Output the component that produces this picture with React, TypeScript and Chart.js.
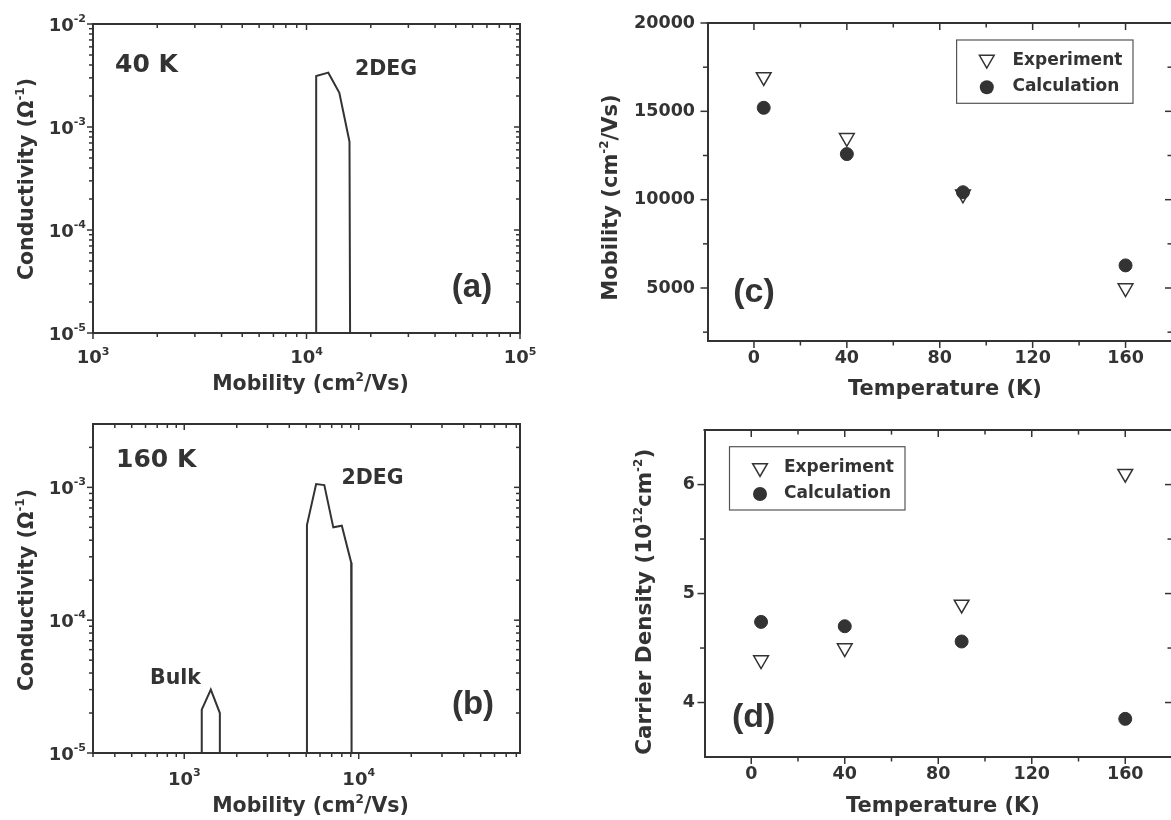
import React, { useEffect, useRef } from "react";
import { Chart, registerables } from "chart.js";

Chart.register(...registerables);

const INK = "#333333";
const SANS = '"DejaVu Sans", "Liberation Sans", sans-serif';
const TAG = '"Liberation Sans", Arial, sans-serif';

// ---------- (a) 40 K mobility spectrum ----------
const mobility40K = [11100, 11100, 12650, 14250, 15900, 16000];
const conductivity40K = [1e-5, 3.13e-3, 3.37e-3, 2.15e-3, 7.2e-4, 1e-5];

// ---------- (b) 160 K mobility spectrum ----------
const mobilityBulk160K = [1260, 1260, 1420, 1600, 1600];
const conductivityBulk160K = [1e-5, 2.12e-5, 3.0e-5, 2.0e-5, 1e-5];
const mobility2DEG160K = [5050, 5050, 5700, 6350, 7150, 8000, 9050, 9100];
const conductivity2DEG160K = [1e-5, 5.2e-4, 1.06e-3, 1.04e-3, 5.0e-4, 5.15e-4, 2.72e-4, 1e-5];

// ---------- (c), (d) ----------
const temperatureK = [4.2, 40, 90, 160];
const mobilityExperiment = [16950, 13500, 10300, 5000];
const mobilityCalculation = [15200, 12580, 10420, 6280];
const densityExperiment = [4.39, 4.5, 4.9, 6.1];
const densityCalculation = [4.74, 4.7, 4.56, 3.85];

// ---------- ticks ----------
const aXMajor = [1e3, 1e4, 1e5];
const aXMinor = [2e3, 3e3, 4e3, 5e3, 6e3, 7e3, 8e3, 9e3, 2e4, 3e4, 4e4, 5e4, 6e4, 7e4, 8e4, 9e4];
const aYMajor = [1e-5, 1e-4, 1e-3, 1e-2];
const aYMinor = [2e-5, 3e-5, 4e-5, 5e-5, 6e-5, 7e-5, 8e-5, 9e-5, 2e-4, 3e-4, 4e-4, 5e-4, 6e-4, 7e-4, 8e-4, 9e-4, 2e-3, 3e-3, 4e-3, 5e-3, 6e-3, 7e-3, 8e-3, 9e-3];
const bXMajor = [1e3, 1e4];
const bXMinor = [300, 400, 500, 600, 700, 800, 900, 2000, 3000, 4000, 5000, 6000, 7000, 8000, 9000, 20000, 30000, 40000, 50000, 60000, 70000, 80000];
const bYMajor = [1e-5, 1e-4, 1e-3];
const bYMinor = [2e-5, 3e-5, 4e-5, 5e-5, 6e-5, 7e-5, 8e-5, 9e-5, 2e-4, 3e-4, 4e-4, 5e-4, 6e-4, 7e-4, 8e-4, 9e-4, 2e-3];
const tempMajor = [0, 40, 80, 120, 160];
const tempMinor = [20, 60, 100, 140];
const mobMajor = [5000, 10000, 15000, 20000];
const mobMinor = [2500, 7500, 12500, 17500];
const densMajor = [4, 5, 6];
const densMinor = [4.5, 5.5];

type Seg = [string, boolean?];

function drawRich(
  ctx: CanvasRenderingContext2D,
  segs: Seg[],
  x: number,
  y: number,
  size: number,
  supSize: number,
  raise: number,
  align: "left" | "center" | "right",
  family: string = SANS
) {
  const main = `bold ${size}px ${family}`;
  const sup = `bold ${supSize}px ${family}`;
  let w = 0;
  for (const [t, s] of segs) {
    ctx.font = s ? sup : main;
    w += ctx.measureText(t).width;
  }
  let cx = align === "left" ? x : align === "center" ? x - w / 2 : x - w;
  ctx.textAlign = "left";
  ctx.textBaseline = "alphabetic";
  ctx.fillStyle = INK;
  for (const [t, s] of segs) {
    ctx.font = s ? sup : main;
    ctx.fillText(t, cx, s ? y - raise : y);
    cx += ctx.measureText(t).width;
  }
}

type Note = { segs: Seg[]; x: number; y: number; size: number; align: "left" | "center" | "right"; family?: string };
type Decor = {
  xMajor: number[];
  xMinor: number[];
  yMajor: number[];
  yMinor: number[];
  majorLen: number;
  minorLen: number;
  logXBaseline?: number;
  logYRight?: number;
  xTitle: { segs: Seg[]; x: number; y: number; size: number };
  yTitle: { segs: Seg[]; x: number; y: number; size: number };
  notes: Note[];
  legend?: {
    box: [number, number, number, number];
    markerX: number;
    textX: number;
    triY: number;
    circY: number;
    triText: number;
    circText: number;
  };
};

function triangleDown(ctx: CanvasRenderingContext2D, x: number, y: number, r: number) {
  const s = Math.sin(Math.PI / 3) * r;
  ctx.beginPath();
  ctx.moveTo(x, y + r);
  ctx.lineTo(x - s, y - r / 2);
  ctx.lineTo(x + s, y - r / 2);
  ctx.closePath();
}

function decorPlugin(d: Decor) {
  return {
    id: "decor",
    afterDraw(chart: any) {
      const ctx: CanvasRenderingContext2D = chart.ctx;
      const a = chart.chartArea;
      const xs = chart.scales.x;
      const ys = chart.scales.y;
      ctx.save();
      // top and right frame
      ctx.strokeStyle = INK;
      ctx.lineWidth = 2;
      ctx.lineCap = "square";
      ctx.beginPath();
      ctx.moveTo(a.left, a.top);
      ctx.lineTo(a.right, a.top);
      ctx.lineTo(a.right, a.bottom);
      ctx.stroke();
      // ticks
      ctx.lineWidth = 1.5;
      ctx.lineCap = "butt";
      const seg = (x1: number, y1: number, x2: number, y2: number) => {
        ctx.beginPath();
        ctx.moveTo(x1, y1);
        ctx.lineTo(x2, y2);
        ctx.stroke();
      };
      const tx = (vals: number[], len: number) =>
        vals.forEach((v) => {
          const p = xs.getPixelForValue(v);
          seg(p, a.bottom, p, a.bottom + 1 + len);
          seg(p, a.top, p, a.top + 1 + len);
        });
      const ty = (vals: number[], len: number) =>
        vals.forEach((v) => {
          const p = ys.getPixelForValue(v);
          seg(a.left, p, a.left - 1 - len, p);
          seg(a.right, p, a.right - 1 - len, p);
        });
      tx(d.xMajor, d.majorLen);
      tx(d.xMinor, d.minorLen);
      ty(d.yMajor, d.majorLen);
      ty(d.yMinor, d.minorLen);

      // log tick labels 10^n
      if (d.logXBaseline !== undefined) {
        d.xMajor.forEach((v) => {
          const p = xs.getPixelForValue(v);
          const e = String(Math.round(Math.log10(v)));
          drawRich(ctx, [["10"], [e, true]], p, a.bottom + d.logXBaseline!, 18, 11, 8.5, "center");
        });
      }
      if (d.logYRight !== undefined) {
        d.yMajor.forEach((v) => {
          const p = ys.getPixelForValue(v);
          const e = String(Math.round(Math.log10(v)));
          drawRich(ctx, [["10"], [e, true]], d.logYRight!, p + 6.5, 18, 11, 8.5, "right");
        });
      }

      // axis titles
      drawRich(ctx, d.xTitle.segs, d.xTitle.x, d.xTitle.y, d.xTitle.size, 12, 8.7, "center");
      ctx.save();
      ctx.translate(d.yTitle.x, d.yTitle.y);
      ctx.rotate(-Math.PI / 2);
      drawRich(ctx, d.yTitle.segs, 0, 0, d.yTitle.size, 12, 8.7, "center");
      ctx.restore();

      // annotations
      d.notes.forEach((n) => drawRich(ctx, n.segs, n.x, n.y, n.size, 12, 8, n.align, n.family || SANS));

      // legend
      if (d.legend) {
        const L = d.legend;
        ctx.strokeStyle = "#555555";
        ctx.lineWidth = 1.2;
        ctx.strokeRect(L.box[0], L.box[1], L.box[2], L.box[3]);
        ctx.fillStyle = "#ffffff";
        ctx.strokeStyle = INK;
        ctx.lineWidth = 1.5;
        triangleDown(ctx, L.markerX, L.triY, 8.5);
        ctx.fill();
        ctx.stroke();
        ctx.fillStyle = INK;
        ctx.beginPath();
        ctx.arc(L.markerX, L.circY, 7, 0, Math.PI * 2);
        ctx.fill();
        drawRich(ctx, [["Experiment"]], L.textX, L.triText, 17, 11, 8, "left");
        drawRich(ctx, [["Calculation"]], L.textX, L.circText, 17, 11, 8, "left");
      }
      ctx.restore();
    },
  };
}

type Area = { l: number; t: number; r: number; b: number };
type Spec = { x: number; y: number; w: number; h: number; area: Area; config: () => any };

function axisBase(size: number) {
  return {
    grid: { display: false, drawTicks: false },
    border: { display: true, color: INK, width: 2 },
    afterFit: (s: any) => {
      if (s.isHorizontal()) s.height = size;
      else s.width = size;
    },
  };
}

function linearTicks(values: number[], padding: number) {
  return {
    ticks: {
      display: true,
      color: INK,
      font: { family: SANS, weight: "bold", size: 17.5 },
      padding,
      autoSkip: false,
      maxRotation: 0,
      callback: (v: any) => String(v),
    },
    afterBuildTicks: (s: any) => {
      s.ticks = values.map((v) => ({ value: v }));
    },
  };
}

function baseOptions(w: number, h: number, area: Area, scales: any, decor: Decor) {
  return {
    options: {
      responsive: false,
      animation: false,
      devicePixelRatio: 1,
      events: [],
      layout: { autoPadding: false, padding: { left: 0, top: area.t, right: w - area.r, bottom: 0 } },
      plugins: { legend: { display: false }, tooltip: { enabled: false } },
      scales,
    },
    plugins: [decorPlugin(decor)],
  };
}

const pts = (xs: number[], ys: number[]) => xs.map((x, i) => ({ x, y: ys[i] }));

const curveStyle = {
  showLine: true,
  borderColor: INK,
  borderWidth: 2,
  pointRadius: 0,
  pointHoverRadius: 0,
  fill: false,
  tension: 0,
};

const experimentStyle = {
  pointStyle: "triangle",
  pointRotation: 180,
  pointRadius: 8.5,
  pointHoverRadius: 8.5,
  pointBackgroundColor: "#ffffff",
  pointBorderColor: INK,
  pointBorderWidth: 1.5,
  showLine: false,
  order: 1,
};
const calculationStyle = {
  pointStyle: "circle",
  pointRadius: 6.5,
  pointHoverRadius: 6.5,
  pointBackgroundColor: INK,
  pointBorderColor: INK,
  pointBorderWidth: 1,
  showLine: false,
  order: 0,
};

const mobilityTitle: Seg[] = [["Mobility (cm"], ["2", true], ["/Vs)"]];
const conductivityTitle: Seg[] = [["Conductivity (\u03A9"], ["-1", true], [")"]];

const specA: Spec = {
  x: 0, y: 0, w: 585, h: 410,
  area: { l: 93, t: 24, r: 520, b: 333 },
  config() {
    const { w, h, area } = specA;
    return {
      type: "scatter",
      data: { datasets: [{ label: "2DEG 40 K", data: pts(mobility40K, conductivity40K), ...curveStyle }] },
      ...baseOptions(w, h, area, {
        x: { type: "logarithmic", min: 1e3, max: 1e5, ticks: { display: false }, ...axisBase(h - area.b) },
        y: { type: "logarithmic", min: 1e-5, max: 1e-2, ticks: { display: false }, ...axisBase(area.l) },
      }, {
        xMajor: aXMajor, xMinor: aXMinor, yMajor: aYMajor, yMinor: aYMinor,
        majorLen: 5, minorLen: 3,
        logXBaseline: 30, logYRight: 86,
        xTitle: { segs: mobilityTitle, x: 310.5, y: 390, size: 20.5 },
        yTitle: { segs: conductivityTitle, x: 33, y: 179, size: 20.5 },
        notes: [
          { segs: [["40 K"]], x: 115, y: 71.5, size: 25, align: "left" },
          { segs: [["2DEG"]], x: 355, y: 75, size: 20.5, align: "left" },
          { segs: [["(a)"]], x: 472, y: 297, size: 33, align: "center", family: TAG },
        ],
      }),
    };
  },
};

const specB: Spec = {
  x: 0, y: 410, w: 585, h: 410,
  area: { l: 93, t: 14, r: 520, b: 343 },
  config() {
    const { w, h, area } = specB;
    return {
      type: "scatter",
      data: {
        datasets: [
          { label: "Bulk 160 K", data: pts(mobilityBulk160K, conductivityBulk160K), ...curveStyle },
          { label: "2DEG 160 K", data: pts(mobility2DEG160K, conductivity2DEG160K), ...curveStyle },
        ],
      },
      ...baseOptions(w, h, area, {
        x: { type: "logarithmic", min: 300, max: 84000, ticks: { display: false }, ...axisBase(h - area.b) },
        y: { type: "logarithmic", min: 1e-5, max: 3e-3, ticks: { display: false }, ...axisBase(area.l) },
      }, {
        xMajor: bXMajor, xMinor: bXMinor, yMajor: bYMajor, yMinor: bYMinor,
        majorLen: 5, minorLen: 3,
        logXBaseline: 31.5, logYRight: 86,
        xTitle: { segs: mobilityTitle, x: 310.5, y: 402, size: 20.5 },
        yTitle: { segs: conductivityTitle, x: 33, y: 180, size: 20.5 },
        notes: [
          { segs: [["160 K"]], x: 116, y: 56.5, size: 25, align: "left" },
          { segs: [["2DEG"]], x: 341.5, y: 73.5, size: 20.5, align: "left" },
          { segs: [["Bulk"]], x: 150, y: 273.5, size: 20.5, align: "left" },
          { segs: [["(b)"]], x: 473, y: 304, size: 33, align: "center", family: TAG },
        ],
      }),
    };
  },
};

const specC: Spec = {
  x: 585, y: 0, w: 600, h: 410,
  area: { l: 122.5, t: 22, r: 587, b: 341 },
  config() {
    const { w, h, area } = specC;
    return {
      type: "scatter",
      data: {
        datasets: [
          { label: "Experiment", data: pts(temperatureK, mobilityExperiment), ...experimentStyle },
          { label: "Calculation", data: pts(temperatureK, mobilityCalculation), ...calculationStyle },
        ],
      },
      ...baseOptions(w, h, area, {
        x: { type: "linear", min: -20, max: 180, ...linearTicks(tempMajor, 7), ...axisBase(h - area.b) },
        y: { type: "linear", min: 2000, max: 20000, ...linearTicks(mobMajor, 12.5), ...axisBase(area.l) },
      }, {
        xMajor: tempMajor, xMinor: tempMinor, yMajor: mobMajor, yMinor: mobMinor,
        majorLen: 6, minorLen: 3.5,
        xTitle: { segs: [["Temperature (K)"]], x: 360, y: 395, size: 21 },
        yTitle: { segs: [["Mobility (cm"], ["-2", true], ["/Vs)"]], x: 31.8, y: 197.5, size: 21 },
        notes: [{ segs: [["(c)"]], x: 169, y: 302, size: 34, align: "center", family: TAG }],
        legend: {
          box: [371.6, 40, 176.4, 63.3],
          markerX: 401.8, textX: 427.4,
          triY: 59.6, circY: 87.3,
          triText: 65.2, circText: 91.2,
        },
      }),
    };
  },
};

const specD: Spec = {
  x: 585, y: 410, w: 600, h: 410,
  area: { l: 119.5, t: 18, r: 587, b: 347 },
  config() {
    const { w, h, area } = specD;
    return {
      type: "scatter",
      data: {
        datasets: [
          { label: "Experiment", data: pts(temperatureK, densityExperiment), ...experimentStyle },
          { label: "Calculation", data: pts(temperatureK, densityCalculation), ...calculationStyle },
        ],
      },
      ...baseOptions(w, h, area, {
        x: { type: "linear", min: -20, max: 180, ...linearTicks(tempMajor, 7), ...axisBase(h - area.b) },
        y: { type: "linear", min: 3.5, max: 6.5, ...linearTicks(densMajor, 9.6), ...axisBase(area.l) },
      }, {
        xMajor: tempMajor, xMinor: tempMinor, yMajor: densMajor, yMinor: densMinor,
        majorLen: 6, minorLen: 3.5,
        xTitle: { segs: [["Temperature (K)"]], x: 358, y: 401.7, size: 21 },
        yTitle: { segs: [["Carrier Density (10"], ["12", true], ["cm"], ["-2", true], [")"]], x: 65.6, y: 191.7, size: 21.5 },
        notes: [{ segs: [["(d)"]], x: 168.6, y: 317, size: 34, align: "center", family: TAG }],
        legend: {
          box: [144.5, 36.7, 175.5, 63.3],
          markerX: 175, textX: 199,
          triY: 57.9, circY: 84,
          triText: 61.7, circText: 87.7,
        },
      }),
    };
  },
};

const specs: Spec[] = [specA, specB, specC, specD];

function Panel({ spec }: { spec: Spec }) {
  const ref = useRef<HTMLCanvasElement>(null);
  useEffect(() => {
    const chart = new Chart(ref.current as HTMLCanvasElement, spec.config());
    return () => chart.destroy();
  }, [spec]);
  return (
    <canvas
      ref={ref}
      width={spec.w}
      height={spec.h}
      style={{ position: "absolute", left: spec.x, top: spec.y, width: spec.w, height: spec.h }}
    />
  );
}

export default function App() {
  return (
    <div
      style={{
        position: "fixed",
        left: 0,
        top: 0,
        width: 1171,
        height: 820,
        overflow: "hidden",
        background: "#ffffff",
      }}
    >
      {specs.map((s, i) => (
        <Panel key={i} spec={s} />
      ))}
    </div>
  );
}
